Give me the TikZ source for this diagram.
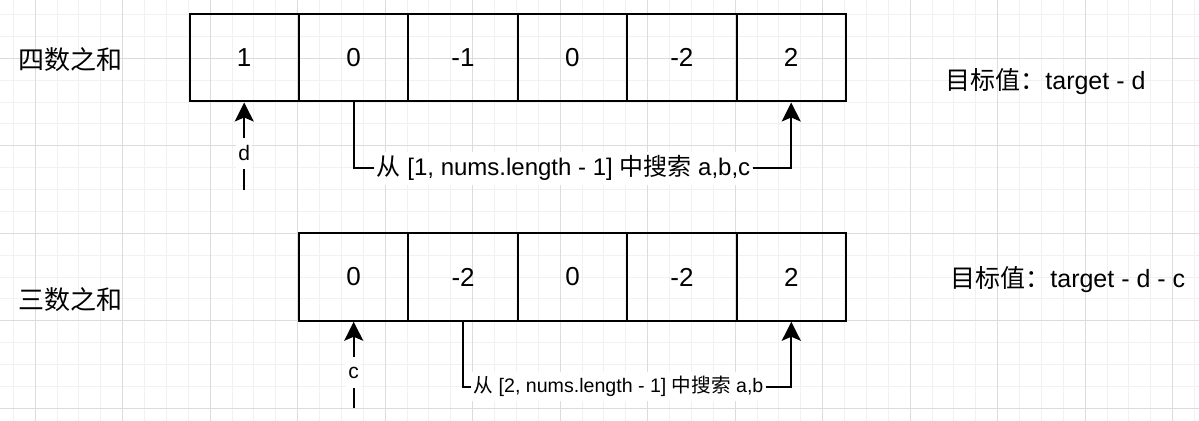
\documentclass[tikz,border=0pt]{standalone}
\usepackage{fontspec}
\setmainfont{Liberation Sans}
\newfontfamily\cjk{Noto Sans CJK SC}
\usetikzlibrary{arrows.meta}
\definecolor{gridminor}{HTML}{F1F1F1}
\definecolor{gridmajor}{HTML}{DCDCDC}

\begin{document}
\begin{tikzpicture}[
    x=0.5pt, y=-0.5pt,
    cell/.style={draw, line width=1pt, minimum width=54.7pt, minimum height=43.75pt, inner sep=0pt, font=\fontsize{13}{15}\selectfont},
    rowtitle/.style={anchor=west, inner sep=0pt, font=\cjk\fontsize{13}{15}\selectfont},
    goal/.style={anchor=west, inner sep=0pt, font=\fontsize{12.5}{15}\selectfont},
    pointer/.style={fill=white, inner xsep=1pt, minimum height=15pt, font=\fontsize{10.5}{12}\selectfont},
    rangelbl/.style={fill=white, inner xsep=1pt, inner ysep=2pt},
    conn/.style={line width=1pt, -{Stealth[length=9.5pt, width=9.5pt, inset=2pt]}},
    wire/.style={line width=1pt}
]
\useasboundingbox[fill=white] (0,0) rectangle (1199,421);

% grid
\foreach \k in {0,...,54} \draw[gridminor, line width=0.5pt] ({13.3+21.875*\k},0) -- ++(0,421);
\foreach \k in {0,...,18} \draw[gridminor, line width=0.5pt] (0,{14.55+21.875*\k}) -- ++(1199,0);
\foreach \k in {0,...,13} \draw[gridmajor, line width=0.5pt] ({35.2+87.5*\k},0) -- ++(0,421);
\foreach \k in {0,...,4} \draw[gridmajor, line width=0.5pt] (0,{58.3+87.5*\k}) -- ++(1199,0);

% four sum
\node[rowtitle] (four) at (18,60) {四数之和};
\node[cell] (t1) at (244.2,57.75) {1};
\node[cell] (t2) at (353.6,57.75) {0};
\node[cell] (t3) at (463.0,57.75) {-1};
\node[cell] (t4) at (572.4,57.75) {0};
\node[cell] (t5) at (681.8,57.75) {-2};
\node[cell] (t6) at (791.2,57.75) {2};
\node[goal] (fourgoal) at (945,82) {{\cjk 目标值：}target - d};

\coordinate (dtail) at (244.2,190);
\node[pointer] (dlbl) at (244.2,153.5) {d};
\draw[wire] (dtail) -- (dlbl);
\draw[conn] (dlbl) -- (t1.south);

\node[rangelbl, font=\fontsize{12}{14}\selectfont] (topsearch) at (563.5,168.3) {{\cjk 从} [1, nums.length - 1] {\cjk 中搜索} a,b,c};
\draw[wire] (t2.south) |- (topsearch.west);
\draw[conn] (topsearch.east) -| (t6.south);

% three sum
\node[rowtitle] (three) at (18,300) {三数之和};
\node[cell] (b1) at (353.7,277) {0};
\node[cell] (b2) at (463.1,277) {-2};
\node[cell] (b3) at (572.5,277) {0};
\node[cell] (b4) at (681.9,277) {-2};
\node[cell] (b5) at (791.3,277) {2};
\node[goal] (threegoal) at (950,279.3) {{\cjk 目标值：}target - d - c};

\coordinate (ctail) at (353.7,408.3);
\node[pointer] (clbl) at (353.7,372.5) {c};
\draw[wire] (ctail) -- (clbl);
\draw[conn] (clbl) -- (b1.south);

\node[rangelbl, font=\fontsize{9.8}{12}\selectfont] (botsearch) at (618.5,386.7) {{\cjk 从} [2, nums.length - 1] {\cjk 中搜索} a,b};
\draw[wire] (b2.south) |- (botsearch.west);
\draw[conn] (botsearch.east) -| (b5.south);
\end{tikzpicture}
\end{document}
